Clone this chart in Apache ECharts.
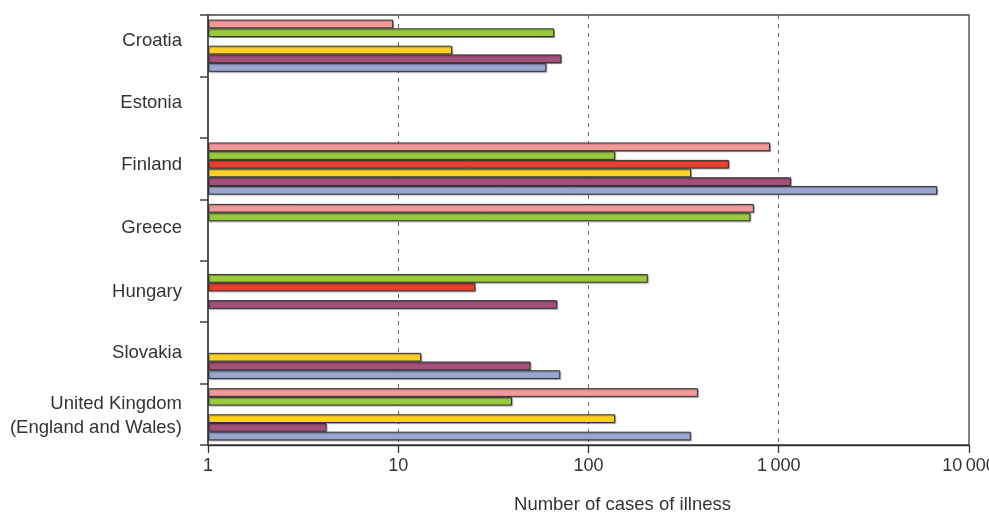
<!DOCTYPE html>
<html>
<head>
<meta charset="utf-8">
<script src="https://cdn.jsdelivr.net/npm/echarts@6/dist/echarts.min.js"></script>
<style>
html,body{margin:0;padding:0;background:#fff;}
#chart{width:989px;height:513px;}
</style>
</head>
<body>
<div id="chart"></div>
<script>
const categories = ['Croatia', 'Estonia', 'Finland', 'Greece', 'Hungary', 'Slovakia', 'United Kingdom\n(England and Wales)'];
const seriesPink   = [9.4, null, 900, 740, null, null, 376];
const seriesGreen  = [66, null, 138, 710, 205, null, 39.6];
const seriesRed    = [null, null, 547, null, 25.4, null, null];
const seriesYellow = [19.2, null, 346, null, null, 13.2, 138];
const seriesPurple = [72, null, 1160, null, 68.5, 49.6, 4.2];
const seriesBlue   = [60, null, 6800, null, null, 71, 345];
const xTicks = [1, 10, 100, 1000, 10000];
const xTickLabels = ['1', '10', '100', '1\u2009000', '10\u2009000'];
const axisTitle = 'Number of cases of illness';

const colors = ['#F4999A', '#9ACA3C', '#E84132', '#FDD128', '#A3507A', '#9AA5D0'];
const dataSets = [seriesPink, seriesGreen, seriesRed, seriesYellow, seriesPurple, seriesBlue];
const labelStyleKeys = ['u9', 'u8', 'u7', 'u4', 'n', 'n', 'uk'];

const chart = echarts.init(document.getElementById('chart'), null, {renderer: 'canvas'});
const font = '"Liberation Sans", Arial, Helvetica, sans-serif';
const lblBase = {fontFamily: font, fontSize: 18.5, color: '#333', lineHeight: 27, align: 'right'};

const option = {
  animation: false,
  backgroundColor: '#fff',
  grid: {left: 208, right: 20, top: 15, bottom: 68, show: true, borderColor: '#444', borderWidth: 1.3,
         containLabel: false, outerBoundsMode: 'none'},
  xAxis: {
    type: 'log', logBase: 10, min: 1, max: 10000,
    name: axisTitle, nameLocation: 'middle', nameGap: 50,
    nameTextStyle: {fontFamily: font, fontSize: 18.5, color: '#333', padding: [0, 0, 0, 68]},
    axisLine: {show: true, lineStyle: {color: '#333', width: 1.3}},
    axisTick: {show: true, length: 8, lineStyle: {color: '#333', width: 1.3}},
    axisLabel: {
      fontFamily: font, fontSize: 18, color: '#333', margin: 12,
      formatter: function (v) { const i = xTicks.indexOf(Math.round(v)); return i >= 0 ? xTickLabels[i] : ''; }
    },
    splitLine: {show: true, showMinLine: false, showMaxLine: false, lineStyle: {color: '#666', type: [4, 5], width: 1}},
    minorTick: {show: false}
  },
  yAxis: {
    type: 'category', data: categories, inverse: true,
    axisLine: {show: true, lineStyle: {color: '#444', width: 1.5}},
    axisTick: {show: true, length: 8, lineStyle: {color: '#444', width: 1.5}},
    axisLabel: {
      fontFamily: font, fontSize: 18.5, color: '#333', margin: 26, lineHeight: 27, align: 'right',
      formatter: function (v, idx) {
        const k = labelStyleKeys[idx];
        if (k === 'uk') { const parts = v.split('\n'); return '{uk1|' + parts[0] + '}\n{uk2|' + parts[1] + '}'; }
        return '{' + k + '|' + v + '}';
      },
      rich: {
        u9: Object.assign({}, lblBase, {padding: [0, 0, 9, 0]}),
        u8: Object.assign({}, lblBase, {padding: [0, 0, 8, 0]}),
        u7: Object.assign({}, lblBase, {padding: [0, 0, 7, 0]}),
        u4: Object.assign({}, lblBase, {padding: [0, 0, 4, 0]}),
        n: Object.assign({}, lblBase),
        uk1: Object.assign({}, lblBase, {padding: [6, 0, 0, 0]}),
        uk2: Object.assign({}, lblBase)
      }
    },
    splitLine: {show: false}
  },
  series: dataSets.map((d, i) => ({
    type: 'bar',
    data: d,
    barWidth: 8.7,
    barGap: '0%',
    itemStyle: {color: colors[i], borderColor: '#333', borderWidth: 1,
      shadowColor: 'rgba(0,0,0,0.3)', shadowOffsetX: 1, shadowOffsetY: 1, shadowBlur: 1}
  }))
};
chart.setOption(option);
</script>
</body>
</html>
